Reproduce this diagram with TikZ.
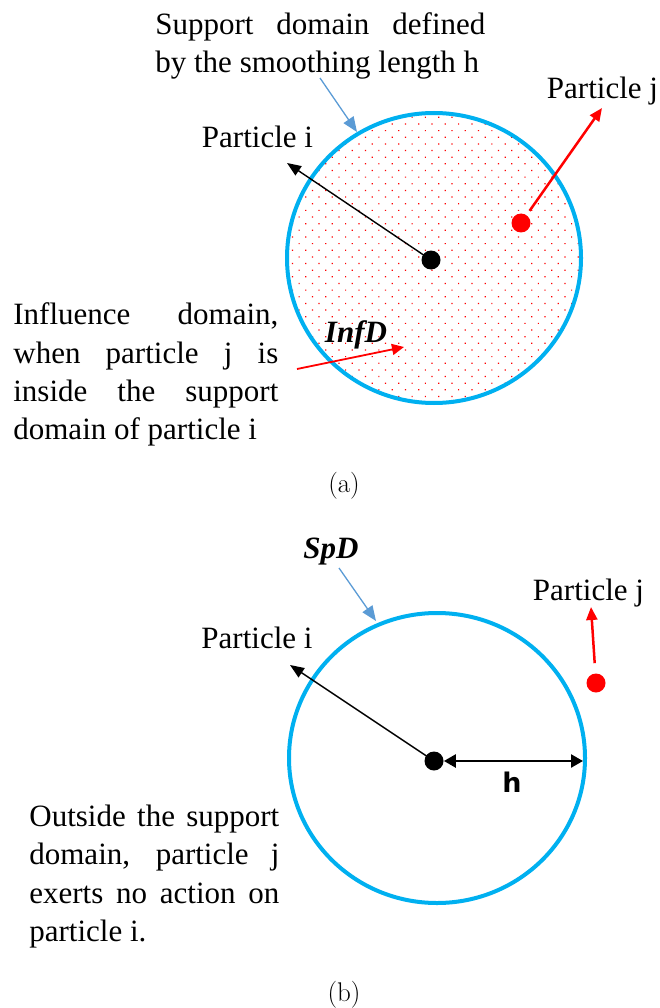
\documentclass[tikz,border=0pt]{standalone}
\usepackage{fontspec}
\newfontfamily\tnr{Liberation Serif}
\newfontfamily\hsans{DejaVu Sans}
\usetikzlibrary{arrows.meta,patterns.meta}
\definecolor{ringblue}{RGB}{0,176,240}
\definecolor{pointblue}{RGB}{91,155,213}
\tikzset{every picture/.style={line width=0.75pt}}
\tikzset{
    lbl/.style={inner sep=0pt, font=\tnr\fontsize{31}{38.3}\selectfont},
    para/.style={lbl, anchor=north west, align=justify},
    boldlbl/.style={inner sep=0pt, anchor=base, font=\tnr\bfseries\itshape\fontsize{31}{38}\selectfont},
    caplbl/.style={anchor=base, inner sep=0pt, font=\fontsize{27}{30}\selectfont},
    ring/.style={draw=ringblue, line width=4pt},
    dotnode/.style={circle, fill=#1, draw=none, inner sep=0pt, minimum size=19pt},
    pointer/.style={-{Triangle[length=14pt,width=11pt]}, draw=black, line width=1.4pt},
    redpointer/.style={-{Triangle[length=13pt,width=11pt]}, draw=red, line width=2.5pt},
    bluepointer/.style={-{Triangle[length=15pt,width=12pt]}, draw=pointblue, line width=1.3pt}
}
\begin{document}
\begin{tikzpicture}[
            x=1pt,
            y=1pt,
            yscale=-1,
            xscale=1,
            every node/.style={text=black},
            line width=0.75pt
        ]
            \useasboundingbox (0,0) rectangle (660,1008);

            \draw [ring, pattern={Dots[distance=9.4pt,radius=0.85pt,angle=45]}, pattern color=red] (434,258) ellipse [x radius=147, y radius=145];
            \node (ci) [dotnode=black] at (431,260) {};
            \node (cj) [dotnode=red] at (521,223) {};
            \coordinate (ti) at (287,163);
            \coordinate (tj) at (602,108);
            \draw [pointer] (ci.center) -- (ti);
            \draw [redpointer, shorten <=5pt] (cj) -- (tj);

            \node (supp) [para, text width=330pt] at (155,12) {Support domain defined\linebreak by the smoothing length h};
            \coordinate (sa) at (320,78);
            \coordinate (sb) at (357,132);
            \draw [bluepointer] (sa) -- (sb);

            \node (pi) [lbl, anchor=base] at (257.5,148) {Particle i};
            \node (pj) [lbl, anchor=base] at (602.5,99) {Particle j};
            \node (infd) [boldlbl] at (356,342) {InfD};

            \node (infl) [para, text width=265pt] at (13,302.6) {Influence domain,\linebreak when particle j is\linebreak inside the support\linebreak domain of particle i};
            \coordinate (ia) at (297,369);
            \coordinate (ib) at (404,347);
            \draw [redpointer, line width=1.8pt, -{Triangle[length=12pt,width=11pt]}] (ia) -- (ib);

            \node (capa) [caplbl] at (344,492) {(a)};

            \draw [ring] (437,758) ellipse [x radius=148, y radius=145];
            \node (bi) [dotnode=black] at (434,761) {};
            \node (bj) [dotnode=red] at (596,683) {};
            \coordinate (bti) at (290,665);
            \coordinate (btj) at (591,607);
            \coordinate (hend) at (583,761);
            \draw [pointer] (bi.center) -- (bti);
            \draw [redpointer, shorten <=10pt] (bj) -- (btj);
            \draw [{Triangle[length=12pt,width=13pt]}-{Triangle[length=12pt,width=13pt]}, line width=2.5pt] (bi) -- (hend);
            \node (h) [anchor=base, inner sep=0pt, font=\hsans\bfseries\fontsize{27}{30}\selectfont] at (512,792) {h};

            \node (spd) [boldlbl] at (331,558) {SpD};
            \coordinate (pa) at (339,568);
            \coordinate (pb) at (376,621);
            \draw [bluepointer] (pa) -- (pb);

            \node (bpi) [lbl, anchor=base] at (257,648) {Particle i};
            \node (bpj) [lbl, anchor=base] at (588.5,600) {Particle j};

            \node (outs) [para, text width=250pt] at (29,804.6) {Outside the support\linebreak domain, particle j\linebreak exerts no action on\linebreak particle i.};

            \node (capb) [caplbl] at (344,1001) {(b)};
        \end{tikzpicture}
\end{document}
